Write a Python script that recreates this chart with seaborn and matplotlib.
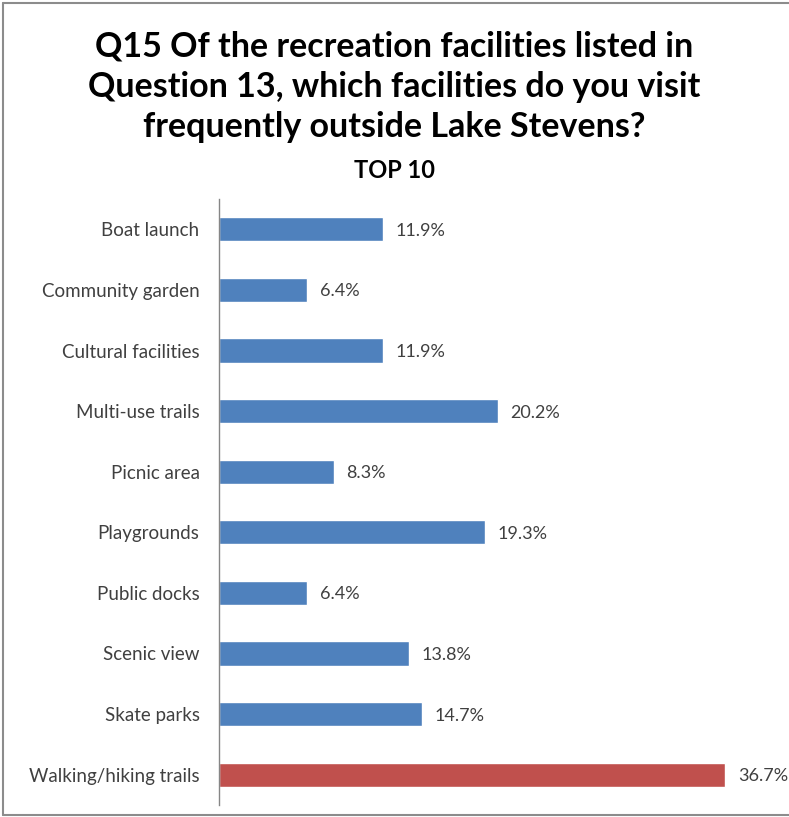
import matplotlib
matplotlib.use("Agg")
import matplotlib.pyplot as plt
import seaborn as sns
import pandas as pd
from matplotlib.lines import Line2D

categories = ["Boat launch", "Community garden", "Cultural facilities", "Multi-use trails",
              "Picnic area", "Playgrounds", "Public docks", "Scenic view", "Skate parks",
              "Walking/hiking trails"]
values = [11.9, 6.4, 11.9, 20.2, 8.3, 19.3, 6.4, 13.8, 14.7, 36.7]
colors = ["#4F81BD"] * 9 + ["#C0504D"]
title = "Q15 Of the recreation facilities listed in\nQuestion 13, which facilities do you visit\nfrequently outside Lake Stevens?"
subtitle = "TOP 10"

sns.set_theme(style="white")
plt.rcParams['font.family'] = ['Lato', 'DejaVu Sans']

W, H = 789, 817
fig = plt.figure(figsize=(W / 100, H / 100), dpi=100)
left, right, top, bottom = 219, 760, 199, 805
ax = fig.add_axes([left / W, 1 - bottom / H, (right - left) / W, (bottom - top) / H])

df = pd.DataFrame({"cat": categories, "val": values})
sns.barplot(data=df, y="cat", x="val", hue="cat", palette=colors, orient="h",
            width=0.4, legend=False, ax=ax, saturation=1)

ax.set_xlim(0, (right - left) / 13.8)
ax.set_ylim(len(categories) - 0.5, -0.5)
for s in ["top", "right", "bottom"]:
    ax.spines[s].set_visible(False)
ax.spines["left"].set_color("#868686")
ax.spines["left"].set_linewidth(1.0)
ax.set_xticks([])
ax.set_xlabel("")
ax.set_ylabel("")
ax.tick_params(axis="y", length=0, pad=14, labelsize=13.5, labelcolor="#404040")

for i, v in enumerate(values):
    ax.text(v + 0.9, i, f"{v:.1f}%", va="center_baseline", ha="left", fontsize=13,
            color="#404040", clip_on=False)

fig.text(0.5, 1 - 87 / H, title, ha="center", va="center", fontsize=24.5,
         fontweight="bold", color="black", linespacing=1.32)
fig.text(0.5, 1 - 170 / H, subtitle, ha="center", va="center", fontsize=17,
         fontweight="bold", color="black")

# partial frame
fc = "#8c8c8c"
fig.add_artist(Line2D([3 / W, 3 / W], [1 - 3 / H, 1 - 815 / H], transform=fig.transFigure, color=fc, lw=1.5))
fig.add_artist(Line2D([3 / W, 1], [1 - 3 / H, 1 - 3 / H], transform=fig.transFigure, color=fc, lw=1.5))
fig.add_artist(Line2D([3 / W, 1], [1 - 815 / H, 1 - 815 / H], transform=fig.transFigure, color=fc, lw=1.5))

fig.savefig("out.png", dpi=100, facecolor="white")
